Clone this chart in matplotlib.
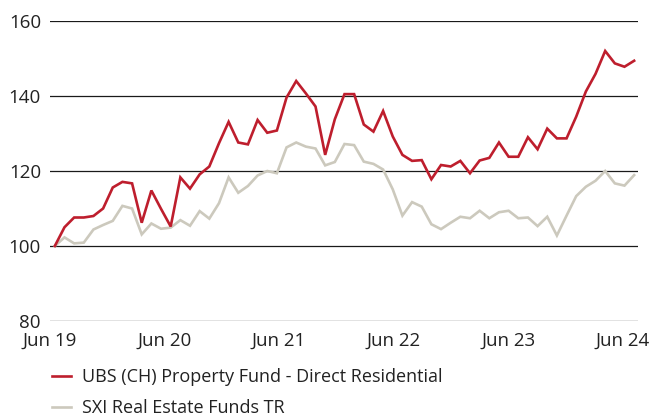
import matplotlib
matplotlib.use("Agg")
import matplotlib.pyplot as plt
import numpy as np

# Monthly index values, Jun 2019 .. Jun 2024 (rebased to 100)
ubs_residential = [
    100.0, 105.0, 107.6, 107.6, 108.0, 110.0, 115.6, 117.1, 116.7, 106.2,
    114.8, 109.9, 105.2, 118.3, 115.3, 119.1, 121.2, 127.4, 133.1, 127.6,
    127.1, 133.6, 130.2, 130.8, 139.6, 144.0, 140.7, 137.2, 124.3, 133.8,
    140.5, 140.5, 132.4, 130.5, 136.0, 129.2, 124.3, 122.7, 122.9, 117.8,
    121.6, 121.2, 122.7, 119.4, 122.8, 123.5, 127.6, 123.8, 123.8, 129.0,
    125.8, 131.3, 128.7, 128.7, 134.5, 141.2, 145.9, 152.0, 148.7, 147.8,
    149.4,
]
sxi_funds_tr = [
    100.0, 102.3, 100.7, 100.9, 104.4, 105.6, 106.7, 110.7, 110.0, 103.1,
    106.0, 104.6, 104.9, 106.9, 105.4, 109.3, 107.3, 111.4, 118.3, 114.2,
    116.0, 118.8, 120.0, 119.4, 126.3, 127.6, 126.5, 126.0, 121.5, 122.4,
    127.2, 126.9, 122.5, 121.9, 120.4, 115.1, 108.1, 111.7, 110.5, 105.8,
    104.5, 106.2, 107.8, 107.4, 109.4, 107.4, 109.0, 109.4, 107.4, 107.6,
    105.3, 107.8, 102.8, 108.1, 113.3, 115.8, 117.4, 120.0, 116.7, 116.1,
    118.9,
]
tick_labels = ["Jun 19", "Jun 20", "Jun 21", "Jun 22", "Jun 23", "Jun 24"]
y_ticks = [80, 100, 120, 140, 160]
series_names = ["UBS (CH) Property Fund - Direct Residential",
                "SXI Real Estate Funds TR"]

RED = "#BE1E2D"
GREY = "#CCC9BD"
TXT = "#222222"

plt.rcParams["font.family"] = ["Open Sans", "DejaVu Sans"]

fig = plt.figure(figsize=(6.54, 4.20), dpi=100)
ax = fig.add_axes([50 / 654, 1 - 321 / 420, 588 / 654, 300 / 420])

months = np.arange(len(ubs_residential))
ax.plot(months, sxi_funds_tr, color=GREY, lw=1.9, label=series_names[1],
        solid_joinstyle="miter", zorder=3)
ax.plot(months, ubs_residential, color=RED, lw=1.9, label=series_names[0],
        solid_joinstyle="miter", zorder=4)

ax.set_ylim(80, 160)
ax.set_xlim(-0.5, 60.4)
ax.set_yticks(y_ticks)
# label positions sit slightly left of the yearly data points (as in the source)
ax.set_xticks(np.arange(len(tick_labels)) * 11.86 - 0.49)
ax.set_xticklabels(tick_labels)

for s in ax.spines.values():
    s.set_visible(False)
ax.tick_params(axis="both", length=0, labelsize=13.5, colors=TXT)
ax.tick_params(axis="y", pad=6.5)
ax.tick_params(axis="x", pad=7.5)
ax.yaxis.grid(True, color="#1a1a1a", lw=0.9)
ax.set_axisbelow(True)

handles, labels = ax.get_legend_handles_labels()
leg = fig.legend(handles[::-1], labels[::-1], loc="upper left",
                 bbox_to_anchor=(51.5 / 654, 1 - 368 / 420), frameon=False,
                 fontsize=13, handlelength=1.1, handletextpad=0.6,
                 labelspacing=0.72, borderaxespad=0, borderpad=0)
for t in leg.get_texts():
    t.set_color(TXT)

fig.savefig("out.png", dpi=100)
